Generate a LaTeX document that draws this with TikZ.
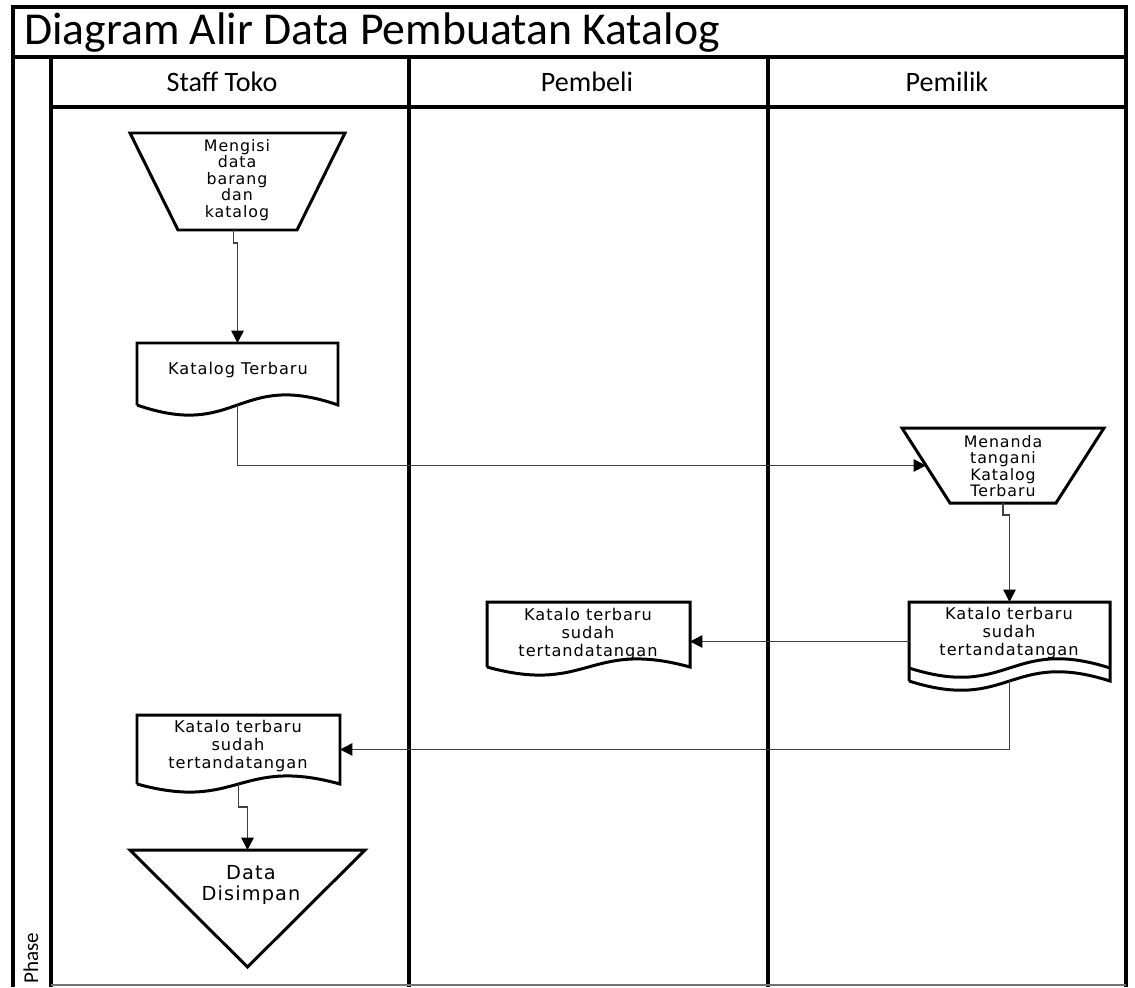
\documentclass[tikz,border=0pt]{standalone}
\usepackage{fontspec}
\setmainfont{Carlito}
\newfontfamily\shapefont{DejaVu Sans}[LetterSpace=6]
\usetikzlibrary{arrows.meta,calc,fit}
\begin{document}
\begin{tikzpicture}[x=0.02cm,y=-0.02cm,
  frame/.style={line width=2.4pt},
  thinframe/.style={line width=1.8pt},
  shapeline/.style={line width=1.7pt, line join=miter},
  conn/.style={line width=0.9pt, draw=black!75},
  arr/.style={conn, -{Triangle[length=7pt,width=7pt,fill=black,color=black]}},
  box/.style={inner sep=0pt, outer sep=0pt, draw=none, rectangle},
  stxt/.style={font=\shapefont\fontsize{9.2}{10.2}\selectfont, align=center, inner sep=0pt},
  ttxt/.style={font=\shapefont\fontsize{9}{9.4}\selectfont, align=center, inner sep=0pt},
  btxt/.style={font=\shapefont\fontsize{11}{11.5}\selectfont, align=center, inner sep=0pt},
  lanetxt/.style={font=\fontsize{16}{19}\selectfont, inner sep=0pt}
]
\useasboundingbox (0,0) rectangle (1135,987);

% ---------- frame ----------
\draw[frame] (13,987) -- (13,7) -- (1126,7) -- (1126,987);
\draw[thinframe] (13,57) -- (1126,57);
\draw[frame] (51,57) -- (51,987);
\draw[thinframe] (51,107) -- (1126,107);
\draw[frame] (409,57) -- (409,987);
\draw[frame] (768,57) -- (768,987);
\draw[black!55, line width=0.8pt] (51,985) -- (1126,985);

\node[anchor=west, font=\fontsize{26}{31}\selectfont, inner sep=0pt] (title) at (24,33) {Diagram Alir Data Pembuatan Katalog};
\node[lanetxt] (h1) at (222,82) {Staff Toko};
\node[lanetxt] (h2) at (587,82) {Pembeli};
\node[lanetxt] (h3) at (947,82) {Pemilik};
\node[rotate=90, font=\fontsize{12}{14}\selectfont, inner sep=0pt] (phase) at (31,958) {Phase};

% ---------- shapes ----------
% manual operation 1
\node[box, fit={(130,133) (345,230)}] (t1) {};
\draw[shapeline] (t1.north west) -- (t1.north east) -- ($(t1.south east)+(-48,0)$) -- ($(t1.south west)+(48,0)$) -- cycle;
\node[ttxt] (t1txt) at (237,180) {Mengisi\\data\\barang\\dan\\katalog};

% document 1
\node[box, fit={(137,343) (338,405)}] (d1) {};
\draw[shapeline] (d1.south west) -- (d1.north west) -- (d1.north east) -- (d1.south east)
  .. controls ($(d1.south)+(0,-35)$) and ($(d1.south)+(0,35)$) .. (d1.south west);
\node[stxt] (d1txt) at (238,370) {Katalog Terbaru};

% manual operation 2
\node[box, fit={(902,428) (1104,503)}] (t2) {};
\draw[shapeline] (t2.north west) -- (t2.north east) -- ($(t2.south east)+(-48,0)$) -- ($(t2.south west)+(48,0)$) -- cycle;
\coordinate (t2l) at ($(t2.north west)!0.5!($(t2.south west)+(48,0)$)$);
\node[ttxt] (t2txt) at (1003,466) {Menanda\\tangani\\Katalog\\Terbaru};

% document 2 (double wave)
\node[box, fit={(909,602) (1110,681)}] (d2) {};
\draw[shapeline] (d2.south west) -- (d2.north west) -- (d2.north east) -- (d2.south east)
  .. controls ($(d2.south)+(0,-32)$) and ($(d2.south)+(0,32)$) .. (d2.south west);
\draw[shapeline] ($(d2.south east)+(0,-13)$)
  .. controls ($(d2.south)+(0,-45)$) and ($(d2.south)+(0,19)$) .. ($(d2.south west)+(0,-13)$);
\node[stxt] (d2txt) at (1009,633) {Katalo terbaru\\sudah\\tertandatangan};

% document 3
\node[box, fit={(487,602) (690,667)}] (d3) {};
\draw[shapeline] (d3.south west) -- (d3.north west) -- (d3.north east) -- (d3.south east)
  .. controls ($(d3.south)+(0,-28)$) and ($(d3.south)+(0,28)$) .. (d3.south west);
\node[stxt] (d3txt) at (588,634) {Katalo terbaru\\sudah\\tertandatangan};

% document 4
\node[box, fit={(137,715) (340,784)}] (d4) {};
\draw[shapeline] (d4.south west) -- (d4.north west) -- (d4.north east) -- (d4.south east)
  .. controls ($(d4.south)+(0,-28)$) and ($(d4.south)+(0,28)$) .. (d4.south west);
\node[stxt] (d4txt) at (238,746) {Katalo terbaru\\sudah\\tertandatangan};

% storage triangle
\node[box, fit={(130,850) (365,967)}] (tri) {};
\draw[shapeline] (tri.north west) -- (tri.north east) -- (tri.south) -- cycle;
\node[btxt] (tritxt) at (251,885) {Data\\Disimpan};

% ---------- connectors ----------
\draw[arr] ($(t1.south)+(-4,0)$) -- ++(0,13) -| (d1.north);
\draw[arr] (d1.south) |- (t2l);
\draw[arr] (t2.south) -- ++(0,12) -| (d2.north);
\draw[arr] (d2.west) -- (d2.west -| d3.east);
\draw[arr] (d2.south) |- (d4.east);
\draw[arr] (d4.south) -- ++(0,23) -| (tri.north);
\end{tikzpicture}
\end{document}
